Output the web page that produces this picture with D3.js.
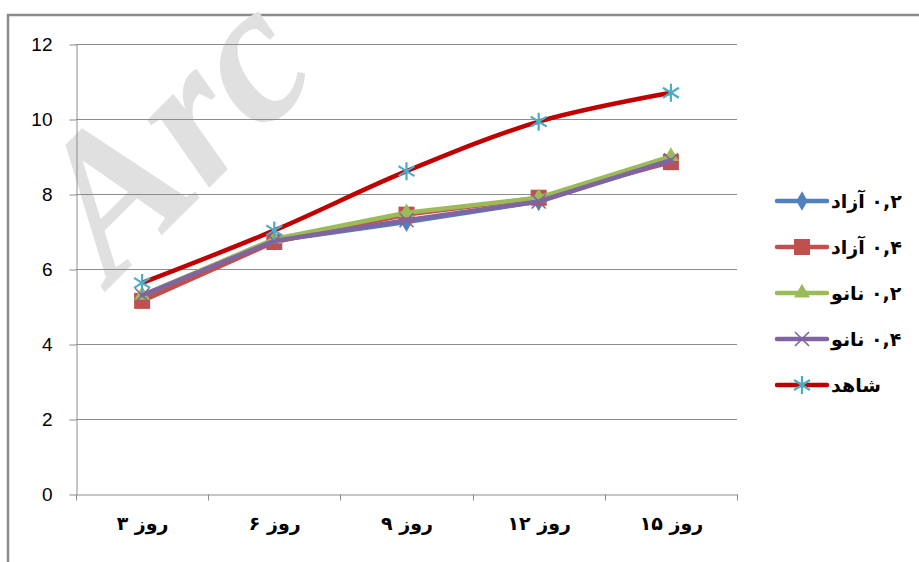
<!DOCTYPE html>
<html>
<head>
<meta charset="utf-8">
<script src="https://cdn.jsdelivr.net/npm/d3@7"></script>
<style>
  body { margin: 0; background: #fff; }
  svg { display: block; }
</style>
</head>
<body>
<div id="chart"></div>
<script>
// data
const days = ["روز ۳", "روز ۶", "روز ۹", "روز ۱۲", "روز ۱۵"];
const azad02 = [5.25, 6.75, 7.25, 7.8, 8.95];
const azad04 = [5.15, 6.72, 7.45, 7.9, 8.85];
const nano02 = [5.3, 6.8, 7.5, 7.9, 9.0];
const nano04 = [5.3, 6.75, 7.3, 7.8, 8.9];
const shahed = [5.63, 7.03, 8.61, 9.93, 10.7];
const yTicks = [0, 2, 4, 6, 8, 10, 12];

const series = [
  { name: "۰,۲ آزاد", values: azad02, color: "#4f81bd", marker: "diamond" },
  { name: "۰,۴ آزاد", values: azad04, color: "#c0504d", marker: "square" },
  { name: "۰,۲ نانو", values: nano02, color: "#9bbb59", marker: "triangle" },
  { name: "۰,۴ نانو", values: nano04, color: "#8064a2", marker: "x" },
  { name: "شاهد", values: shahed, color: "#c00000", marker: "star", smooth: true },
];

const width = 919, height = 562;
const margin = { left: 76, right: 182, top: 44, bottom: 68 };

const svg = d3.select("#chart").append("svg")
  .attr("width", width)
  .attr("height", height);

// outer chart frame
svg.append("rect")
  .attr("x", 8).attr("y", 15)
  .attr("width", 1000).attr("height", 1000)
  .attr("fill", "none")
  .attr("stroke", "#8a8a8a")
  .attr("stroke-width", 2.5);

const x = d3.scaleBand()
  .domain(days)
  .range([margin.left, width - margin.right]);

const y = d3.scaleLinear()
  .domain([0, 12])
  .range([height - margin.bottom, margin.top]);

// watermark (runs off the top edge like in the source image)
svg.append("text")
  .attr("transform", "translate(112,285) rotate(-45)")
  .attr("font-family", "Liberation Serif")
  .attr("font-weight", "bold")
  .attr("font-style", "italic")
  .attr("font-size", 200)
  .attr("fill", "#e0e0e0")
  .text("Arc");

// gridlines
svg.append("g")
  .selectAll("line")
  .data(yTicks.slice(1))
  .join("line")
  .attr("x1", margin.left).attr("x2", width - margin.right)
  .attr("y1", (d) => Math.round(y(d)) + 0.5)
  .attr("y2", (d) => Math.round(y(d)) + 0.5)
  .attr("stroke", "#8c8c8c");

// y axis
const yAxis = svg.append("g")
  .attr("transform", `translate(${margin.left + 0.5},0.5)`)
  .call(d3.axisLeft(y).tickValues(yTicks).tickSize(7).tickSizeOuter(0).tickPadding(17));
yAxis.select(".domain").attr("stroke", "#8c8c8c");
yAxis.selectAll(".tick line").attr("stroke", "#8c8c8c");
yAxis.selectAll("text")
  .attr("font-family", "Liberation Sans Narrow, Liberation Sans")
  .attr("font-size", 19)
  .attr("fill", "#000");

// x axis
const xAxis = svg.append("g")
  .attr("transform", `translate(0.5,${Math.round(y(0)) + 0.5})`)
  .call(d3.axisBottom(x).tickSize(0).tickPadding(22));
xAxis.select(".domain").attr("stroke", "#8c8c8c");
xAxis.selectAll("text")
  .attr("font-family", "DejaVu Sans")
  .attr("font-weight", "bold")
  .attr("font-size", 19)
  .attr("direction", "rtl")
  .attr("fill", "#000");
// tick marks on category boundaries
xAxis.append("g")
  .selectAll("line")
  .data(d3.range(days.length + 1))
  .join("line")
  .attr("x1", (i) => Math.round(margin.left + i * x.step()))
  .attr("x2", (i) => Math.round(margin.left + i * x.step()))
  .attr("y1", 0).attr("y2", 6)
  .attr("stroke", "#8c8c8c");

const cx = (i) => x(days[i]) + x.bandwidth() / 2;

function drawMarker(g, type, color) {
  if (type === "diamond") {
    g.append("path").attr("d", d3.symbol(d3.symbolDiamond, 110)()).attr("fill", color);
  } else if (type === "square") {
    g.append("rect").attr("x", -8).attr("y", -8).attr("width", 16).attr("height", 16).attr("fill", color);
  } else if (type === "triangle") {
    g.append("path").attr("d", d3.symbol(d3.symbolTriangle, 110)()).attr("fill", color);
  } else if (type === "x") {
    g.append("path").attr("d", "M-7,-7L7,7M-7,7L7,-7").attr("stroke", color).attr("stroke-width", 1.6);
  } else if (type === "star") {
    g.append("path")
      .attr("d", "M0,-9L0,9M-8,-5L8,5M-8,5L8,-5")
      .attr("stroke", "#4bacc6").attr("stroke-width", 2.2);
  }
}

const plot = svg.append("g");
series.forEach((s) => {
  const line = d3.line()
    .x((d, i) => cx(i))
    .y((d) => y(d))
    .curve(s.smooth ? d3.curveCatmullRom.alpha(0) : d3.curveLinear);
  plot.append("path")
    .attr("d", line(s.values))
    .attr("fill", "none")
    .attr("stroke", s.color)
    .attr("stroke-width", 4.5)
    .attr("stroke-linejoin", "round")
    .attr("stroke-linecap", "round");
  s.values.forEach((v, i) => {
    const g = plot.append("g").attr("transform", `translate(${cx(i)},${y(v)})`);
    drawMarker(g, s.marker, s.marker === "x" ? "#8064a2" : s.color);
  });
});

// legend
const legend = svg.append("g");
series.forEach((s, i) => {
  const ly = 201 + i * 46;
  const row = legend.append("g");
  row.append("line")
    .attr("x1", 777).attr("x2", 827)
    .attr("y1", ly).attr("y2", ly)
    .attr("stroke", s.color)
    .attr("stroke-width", 4.5)
    .attr("stroke-linecap", "round");
  drawMarker(row.append("g").attr("transform", `translate(802,${ly})`), s.marker, s.color);
  row.append("text")
    .attr("x", 831).attr("y", ly + 7)
    .attr("direction", "rtl")
    .attr("text-anchor", "end")
    .attr("font-family", "DejaVu Sans")
    .attr("font-weight", "bold")
    .attr("font-size", 19)
    .attr("fill", "#000")
    .text(s.name);
});
</script>
</body>
</html>
